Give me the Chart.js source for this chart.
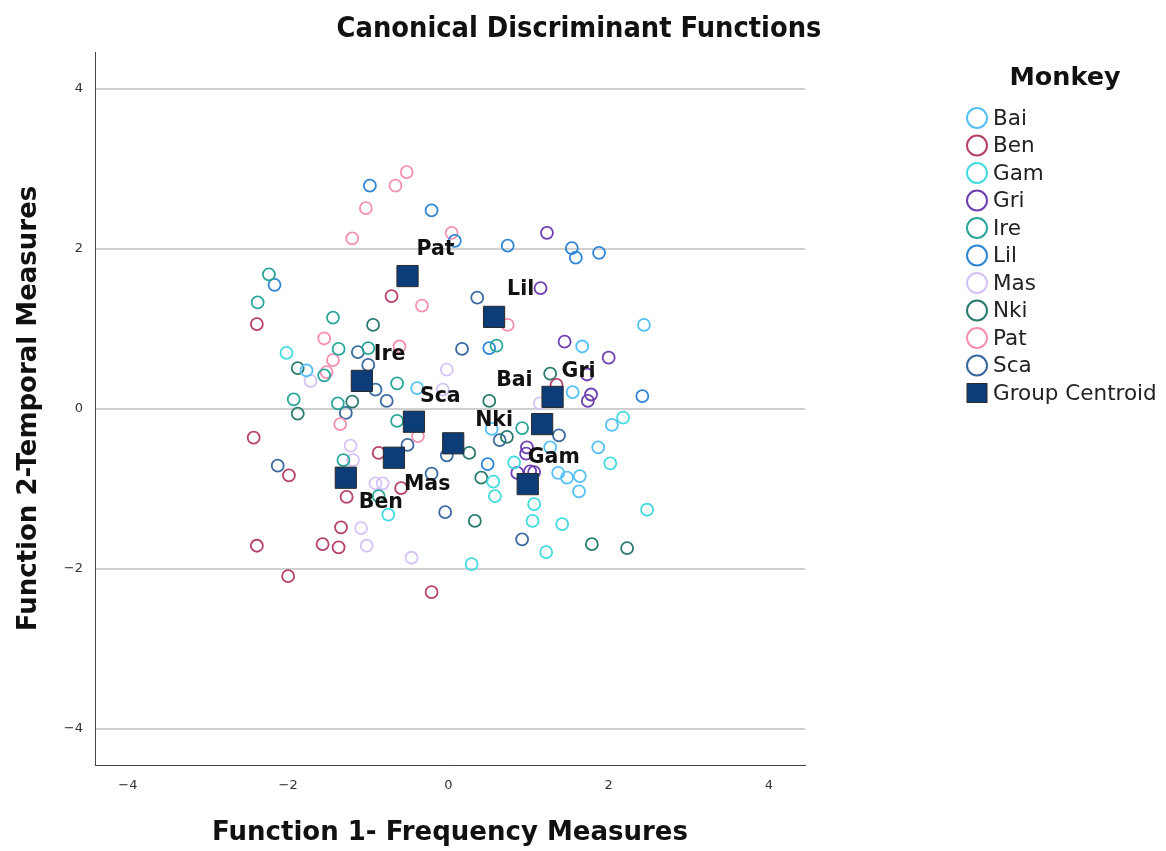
<!DOCTYPE html>
<html>
<head>
<meta charset="utf-8">
<title>Canonical Discriminant Functions</title>
<script src="https://cdn.jsdelivr.net/npm/chart.js@4.4.1/dist/chart.umd.min.js"></script>
<style>
    html, body { margin: 0; padding: 0; background: #ffffff; }
    #wrap { width: 1166px; height: 851px; position: relative; }
</style>
</head>
<body>
<div id="wrap"><canvas id="cdfChart"></canvas></div>
<script>
// groups (Monkey) and their colours
const groups = ["Bai", "Ben", "Gam", "Gri", "Ire", "Lil", "Mas", "Nki", "Pat", "Sca"];
const groupColors = ["#55c1f4", "#b6416b", "#44dbe0", "#6e3fb0", "#2ba79b",
                     "#2f86d6", "#d5c3f7", "#2a7a70", "#f590b2", "#3b6aa0"];

// discriminant scores: Function 1 (x) and Function 2 (y)
const baiX = [-1.77, -0.39, 2.44, 1.67, 1.55, 2.04, 0.54, 1.27, 1.87, 1.37, 1.48, 1.64, 1.63];
const baiY = [0.48, 0.26, 1.05, 0.78, 0.21, -0.20, -0.25, -0.48, -0.48, -0.80, -0.86, -0.84, -1.03];
const benX = [-0.71, -2.39, 1.35, -2.43, -0.87, -1.99, -0.59, -1.27, -1.34, -2.39, -1.57, -1.37, -2.00, -0.21];
const benY = [1.41, 1.06, 0.30, -0.36, -0.55, -0.83, -0.99, -1.10, -1.48, -1.71, -1.69, -1.73, -2.09, -2.29];
const gamX = [-2.02, -0.75, 2.18, 2.02, 0.82, 0.56, 0.58, 1.07, 1.05, 1.42, 2.48, 1.22, 0.29];
const gamY = [0.70, -1.32, -0.11, -0.68, -0.67, -0.91, -1.09, -1.19, -1.40, -1.44, -1.26, -1.79, -1.94];
const griX = [1.23, 1.15, 1.45, 2.00, 1.73, 1.78, 1.74, 0.98, 0.97, 0.86, 1.02, 1.07];
const griY = [2.20, 1.51, 0.84, 0.64, 0.43, 0.18, 0.10, -0.48, -0.56, -0.80, -0.78, -0.79];
const ireX = [-2.24, -2.38, -1.44, -1.37, -1.00, -1.55, -0.64, -1.93, -1.38, -0.64, -1.31, -0.87, 0.60, 0.92];
const ireY = [1.68, 1.33, 1.14, 0.75, 0.76, 0.42, 0.32, 0.12, 0.07, -0.15, -0.64, -1.09, 0.79, -0.24];
const lilX = [-0.98, -0.21, 0.08, 0.74, 1.54, 1.59, 1.88, -2.17, 0.51, 2.42, 0.49];
const lilY = [2.79, 2.48, 2.10, 2.04, 2.01, 1.89, 1.95, 1.55, 0.76, 0.16, -0.69];
const masX = [-1.72, -0.02, -0.07, 1.14, -1.22, -1.19, -0.91, -0.82, -1.09, -1.02, -0.46];
const masY = [0.35, 0.49, 0.24, 0.07, -0.46, -0.64, -0.93, -0.93, -1.49, -1.71, -1.86];
const nkiX = [-0.94, -1.88, -1.20, -1.88, 1.27, 0.51, 0.73, 0.26, 0.41, 0.33, 1.79, 2.23];
const nkiY = [1.05, 0.51, 0.09, -0.06, 0.44, 0.10, -0.35, -0.55, -0.86, -1.40, -1.69, -1.74];
const patX = [-0.52, -0.66, -1.03, -1.20, 0.04, -0.33, -1.55, -0.61, -1.44, -1.52, 0.74, -1.35, -0.38];
const patY = [2.96, 2.79, 2.51, 2.13, 2.20, 1.29, 0.88, 0.78, 0.61, 0.46, 1.05, -0.19, -0.34];
const scaX = [0.36, -1.13, 0.17, -1.00, -0.91, -0.77, -1.28, -0.51, -0.02, 0.64, 1.38, -2.13, -0.21, -0.04, 0.92];
const scaY = [1.39, 0.71, 0.75, 0.55, 0.24, 0.10, -0.05, -0.45, -0.58, -0.39, -0.33, -0.71, -0.81, -1.29, -1.63];

// group centroids (same order as groups)
const centroidX = [1.17, -1.28, 0.99, 1.30, -1.08, 0.57, -0.68, 0.06, -0.51, -0.43];
const centroidY = [-0.19, -0.86, -0.94, 0.15, 0.35, 1.15, -0.61, -0.43, 1.66, -0.16];

// axis ticks
const xTicks = [-4, -2, 0, 2, 4];
const yTicks = [-4, -2, 0, 2, 4];

// label placement next to each centroid (pixels)
const labelDx = [-46, 13, 0, 9, 12, 13, 10, 22, 9, 6];
const labelDy = [-43, 25, -26, -25, -26, -27, 27, -23, -26, -25];

const seriesX = [baiX, benX, gamX, griX, ireX, lilX, masX, nkiX, patX, scaX];
const seriesY = [baiY, benY, gamY, griY, ireY, lilY, masY, nkiY, patY, scaY];

const CENTROID_FILL = "#0c3d78";
const FONT = '"DejaVu Sans", Verdana, sans-serif';

const datasets = groups.map(function (g, i) {
    return {
        label: g,
        data: seriesX[i].map(function (x, k) { return { x: x, y: seriesY[i][k] }; }),
        borderColor: groupColors[i],
        backgroundColor: "rgba(0,0,0,0)",
        pointRadius: 6,
        pointBorderWidth: 1.8,
        pointStyle: "circle",
        showLine: false
    };
});

datasets.push({
    label: "Group Centroid",
    data: centroidX.map(function (x, k) { return { x: x, y: centroidY[k] }; }),
    backgroundColor: CENTROID_FILL,
    borderColor: "#2a2a2a",
    pointStyle: "rect",
    pointRadius: 15,
    pointBorderWidth: 1,
    showLine: false,
    order: -1
});

// title, legend and centroid labels
const decorations = {
    id: "decorations",
    afterDatasetsDraw(chart) {
        const ctx = chart.ctx;
        const xs = chart.scales.x, ys = chart.scales.y;
        ctx.save();
        ctx.fillStyle = "#111";
        ctx.font = "bold 20.5px " + FONT;
        ctx.textAlign = "left";
        ctx.textBaseline = "middle";
        groups.forEach(function (g, i) {
            const px = xs.getPixelForValue(centroidX[i]);
            const py = ys.getPixelForValue(centroidY[i]);
            ctx.fillText(g, px + labelDx[i], py + labelDy[i]);
        });
        ctx.restore();
    },
    afterDraw(chart) {
        const ctx = chart.ctx;
        ctx.save();
        // chart title
        ctx.fillStyle = "#111";
        ctx.textAlign = "center";
        ctx.textBaseline = "middle";
        ctx.font = 'bold 28.7px "Liberation Sans Narrow", "DejaVu Sans Condensed", sans-serif';
        ctx.fillText("Canonical Discriminant Functions", 579, 30);

        // legend
        ctx.font = "bold 25.5px " + FONT;
        ctx.fillText("Monkey", 1065, 78);
        ctx.font = "21.5px " + FONT;
        ctx.textAlign = "left";
        const x0 = 977, y0 = 118, step = 27.5;
        groups.forEach(function (g, i) {
            const y = y0 + i * step;
            ctx.beginPath();
            ctx.arc(x0, y, 10, 0, Math.PI * 2);
            ctx.strokeStyle = groupColors[i];
            ctx.lineWidth = 2;
            ctx.stroke();
            ctx.fillStyle = "#222";
            ctx.fillText(g, x0 + 16, y + 1);
        });
        const yc = y0 + groups.length * step;
        ctx.fillStyle = CENTROID_FILL;
        ctx.fillRect(x0 - 10, yc - 9.5, 20, 19);
        ctx.strokeStyle = "#2a2a2a";
        ctx.lineWidth = 1;
        ctx.strokeRect(x0 - 10, yc - 9.5, 20, 19);
        ctx.fillStyle = "#222";
        ctx.fillText("Group Centroid", x0 + 16, yc + 1);
        ctx.restore();
    }
};

function minusFmt(v) {
    return v < 0 ? "\u2212" + Math.abs(v) : String(v);
}

const canvas = document.getElementById("cdfChart");

new Chart(canvas, {
    type: "scatter",
    data: { datasets: datasets },
    plugins: [decorations],
    options: {
        responsive: true,
        maintainAspectRatio: false,
        animation: false,
        events: [],
        layout: { padding: { top: 52, right: 361, bottom: 0, left: 0 } },
        plugins: {
            legend: { display: false },
            title: { display: false },
            tooltip: { enabled: false }
        },
        scales: {
            x: {
                type: "linear",
                min: -4.41,
                max: 4.45,
                afterBuildTicks: function (s) { s.ticks = xTicks.map(function (v) { return { value: v }; }); },
                afterFit: function (s) { s.height = 86; },
                grid: { display: false, drawTicks: false },
                border: { display: true, color: "#444", width: 1 },
                ticks: {
                    autoSkip: false,
                    maxRotation: 0,
                    padding: 13,
                    color: "#333",
                    font: { family: FONT, size: 13 },
                    callback: minusFmt
                },
                title: {
                    display: true,
                    text: "Function 1- Frequency Measures",
                    color: "#111",
                    font: { family: FONT, size: 26, weight: "bold" },
                    padding: { top: 2, bottom: 2 }
                }
            },
            y: {
                type: "linear",
                min: -4.45,
                max: 4.46,
                afterBuildTicks: function (s) { s.ticks = yTicks.map(function (v) { return { value: v }; }); },
                afterFit: function (s) { s.width = 95; },
                grid: { display: true, drawTicks: false, color: "#d0d0d0", lineWidth: 2 },
                border: { display: true, color: "#444", width: 1 },
                ticks: {
                    autoSkip: false,
                    padding: 12,
                    color: "#333",
                    font: { family: FONT, size: 13 },
                    callback: minusFmt
                },
                title: {
                    display: true,
                    text: "Function 2-Temporal Measures",
                    color: "#111",
                    font: { family: FONT, size: 26, weight: "bold" },
                    padding: { top: 14, bottom: 14 }
                }
            }
        }
    }
});
</script>
</body>
</html>
